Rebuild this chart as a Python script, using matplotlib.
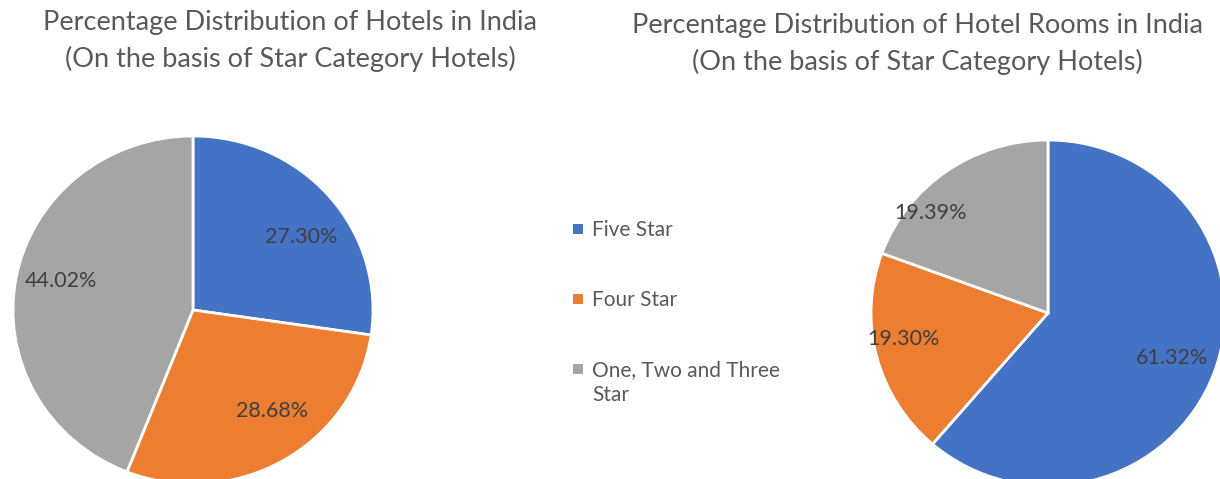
import matplotlib
matplotlib.use("Agg")
import matplotlib.pyplot as plt
from matplotlib.legend_handler import HandlerPatch
from matplotlib.patches import Rectangle
import numpy as np

categories = ["Five Star", "Four Star", "One, Two and Three\nStar"]
hotels_pct = [27.30, 28.68, 44.02]
rooms_pct = [61.32, 19.30, 19.39]
title_left = "Percentage Distribution of Hotels in India\n(On the basis of Star Category Hotels)"
title_right = "Percentage Distribution of Hotel Rooms in India\n(On the basis of Star Category Hotels)"

colors = ["#4472C4", "#ED7D31", "#A5A5A5"]
FONT = "Lato"
TXT = "#404040"
TITLE_C = "#595959"

W, H = 1220, 479
fig = plt.figure(figsize=(W / 100, H / 100), dpi=100)
fig.patch.set_facecolor("white")


def pie_axes(cx, cy, rx, ry):
    return fig.add_axes([(cx - rx) / W, 1 - (cy + ry) / H, 2 * rx / W, 2 * ry / H])


def draw_pie(ax, vals, rfrac, aoff):
    wedges, _ = ax.pie(vals, colors=colors, startangle=90, counterclock=False,
                       radius=1.0, wedgeprops=dict(edgecolor="white", linewidth=2))
    for w, v, rf, ao in zip(wedges, vals, rfrac, aoff):
        mid = np.deg2rad((w.theta1 + w.theta2) / 2 + ao)
        ax.text(rf * np.cos(mid), rf * np.sin(mid), f"{v:.2f}%", ha="center", va="center",
                fontsize=15.5, color=TXT, family=FONT)
    ax.set_aspect("auto")
    ax.set_xlim(-1, 1)
    ax.set_ylim(-1, 1)
    ax.axis("off")
    return wedges


ax1 = pie_axes(193, 310, 180, 174)
wedges = draw_pie(ax1, hotels_pct, [0.73, 0.73, 0.75], [-6, 7, -2])

ax2 = pie_axes(1048, 313, 177, 173)
draw_pie(ax2, rooms_pct, [0.75, 0.83, 0.88], [0, -4, 14])

fig.text(290 / W, 1 - 41 / H, title_left, ha="center", va="center", fontsize=19.5,
         color=TITLE_C, family=FONT, linespacing=1.55)
fig.text(917 / W, 1 - 44 / H, title_right, ha="center", va="center", fontsize=19.5,
         color=TITLE_C, family=FONT, linespacing=1.55)

LEG_FS = 15


class SquareHandler(HandlerPatch):
    def __init__(self, shift_lines=0.0, **kw):
        super().__init__(**kw)
        self.shift_lines = shift_lines

    def create_artists(self, legend, orig_handle, xdescent, ydescent, width, height,
                       fontsize, trans):
        s = 0.48 * fontsize
        y0 = (height - s) / 2 - ydescent + self.shift_lines * fontsize
        p = Rectangle((-xdescent + (width - s) / 2, y0), s, s,
                      facecolor=orig_handle.get_facecolor(), edgecolor="none",
                      transform=trans)
        return [p]


handler_map = {wedges[0]: SquareHandler(0.0), wedges[1]: SquareHandler(0.0),
               wedges[2]: SquareHandler(0.66)}
leg = fig.legend(wedges, categories, loc="upper left", bbox_to_anchor=(572 / W, 1 - 220 / H),
                 frameon=False, prop=dict(family=FONT, size=LEG_FS), labelcolor=TITLE_C,
                 handlelength=0.6, handleheight=0.6, handletextpad=0.35, labelspacing=2.4,
                 borderpad=0, borderaxespad=0, handler_map=handler_map)
for t in leg.get_texts():
    t.set_linespacing(1.3)

fig.savefig("out.png", dpi=100, facecolor="white")
